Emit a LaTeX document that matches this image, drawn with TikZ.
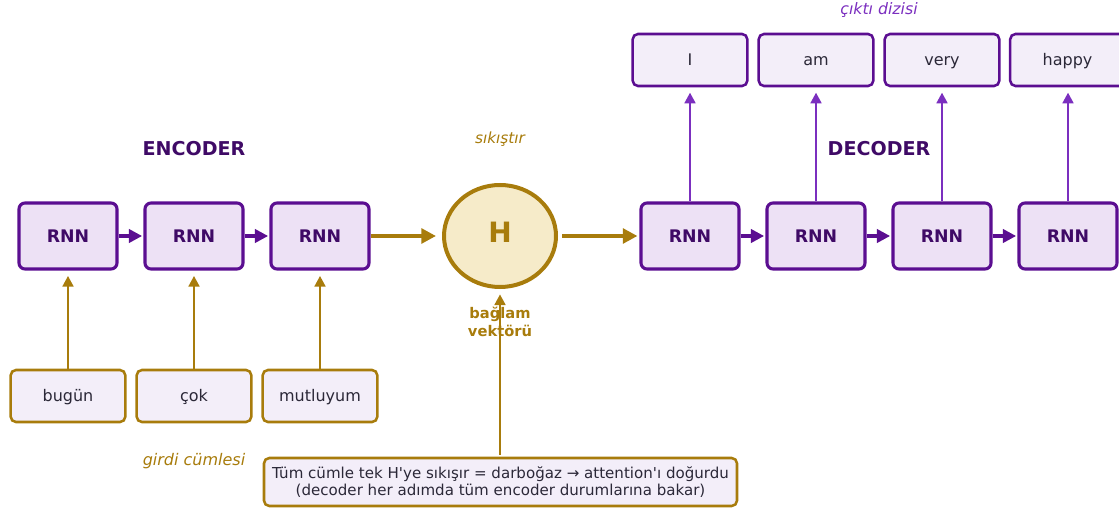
\documentclass[tikz,border=0pt]{standalone}
\usepackage{fontspec}
\setmainfont{DejaVu Sans}
\usetikzlibrary{arrows.meta,shapes.geometric,positioning}
\definecolor{rnnline}{HTML}{5B0E91}
\definecolor{rnntext}{HTML}{3F0A66}
\definecolor{rnnfill}{HTML}{EDE1F5}
\definecolor{wordfill}{HTML}{F3EEF9}
\definecolor{gold}{HTML}{A87C0C}
\definecolor{hfill}{HTML}{F6EBC9}
\definecolor{outline}{HTML}{7B2FBF}
\definecolor{notetext}{HTML}{2B2838}
\newcommand{\fs}[1]{\fontsize{#1}{1.2\dimexpr#1pt\relax}\selectfont}
\tikzset{
  rnn/.style={draw=rnnline, fill=rnnfill, line width=2.3pt, rounded corners=4.5pt,
    minimum width=73.5pt, minimum height=49.5pt, text=rnntext, font=\fs{13}\bfseries},
  inword/.style={draw=gold, fill=wordfill, line width=1.9pt, rounded corners=4pt,
    minimum width=86pt, minimum height=39pt, text height=9pt, text depth=1pt,
    text=notetext, font=\fs{12}},
  outword/.style={inword, draw=rnnline},
  recur/.style={-{Triangle[length=10pt,width=10pt]}, rnnline, line width=2.4pt},
  feed/.style={-{Triangle[length=8pt,width=8pt]}, gold, line width=1.9pt, shorten >=4pt},
  emit/.style={-{Triangle[length=8pt,width=8pt]}, outline, line width=1.9pt, shorten >=4pt},
  squeeze/.style={-{Triangle[length=11pt,width=11pt]}, gold, line width=3pt},
}
\begin{document}
\begin{tikzpicture}[x=0.75pt,y=-0.75pt]
        \useasboundingbox (0,0) rectangle (1119,509);
        \node [rnn] (e1) at (68,236) {RNN};
        \node [rnn] (e2) at (194,236) {RNN};
        \node [rnn] (e3) at (320,236) {RNN};
        \node [rnn] (d1) at (690,236) {RNN};
        \node [rnn] (d2) at (816,236) {RNN};
        \node [rnn] (d3) at (942,236) {RNN};
        \node [rnn] (d4) at (1068,236) {RNN};
        \node [inword] (w1) at (68,396) {bugün};
        \node [inword] (w2) at (194,396) {çok};
        \node [inword] (w3) at (320,396) {mutluyum};
        \node [outword] (o1) at (690,60) {I};
        \node [outword] (o2) at (816,60) {am};
        \node [outword] (o3) at (942,60) {very};
        \node [outword] (o4) at (1067.5,60) {happy};
        \node [ellipse, draw=gold, fill=hfill, line width=3pt, inner sep=0pt,
          minimum width=84pt, minimum height=76.5pt, text=gold, font=\fs{21}\bfseries] (h) at (500,236) {\raisebox{6pt}{H}};
        \node [text=rnntext, font=\fs{14.3}\bfseries] (enc) at (194,149) {ENCODER};
        \node [text=rnntext, font=\fs{14.3}\bfseries] (dec) at (879,149) {DECODER};
        \node [text=gold, font=\fs{11.5}\itshape] (sq) at (500,139) {sıkıştır};
        \node [text=gold, font=\fs{11}\bfseries, align=center] (ctx) at (500,322) {bağlam\\vektörü};
        \node [text=gold, font=\fs{12}\itshape] (inlbl) at (194,461) {girdi cümlesi};
        \node [text=outline, font=\fs{11.8}\itshape] (outlbl) at (879,10) {çıktı dizisi};
        \node [draw=gold, fill=wordfill, line width=1.9pt, rounded corners=4pt,
          minimum width=354.75pt, minimum height=36pt, inner sep=1pt, align=center,
          text=notetext, font=\fs{11.3}] (note) at (500.5,482)
          {Tüm cümle tek H\textquotesingle ye sıkışır = darboğaz → attention\textquotesingle ı doğurdu\\[-0.5pt](decoder her adımda tüm encoder durumlarına bakar)};
        \draw[feed] (w1) -- (e1);
        \draw[feed] (w2) -- (e2);
        \draw[feed] (w3) -- (e3);
        \draw[recur, shorten >=1pt] (e1) -- (e2);
        \draw[recur, shorten >=1pt] (e2) -- (e3);
        \draw[squeeze, shorten >=4.5pt] (e3) -- (h);
        \draw[squeeze, shorten <=3pt, shorten >=1.5pt] (h) -- (d1);
        \draw[recur, shorten >=1pt] (d1) -- (d2);
        \draw[recur, shorten >=1pt] (d2) -- (d3);
        \draw[recur, shorten >=1pt] (d3) -- (d4);
        \draw[emit] (d1) -- (o1);
        \draw[emit] (d2) -- (o2);
        \draw[emit] (d3) -- (o3);
        \draw[emit] (d4.north) -- (o4.south -| d4.north);
        \draw[feed, shorten <=1.5pt] (note.north -| h.south) -- (h.south);
\end{tikzpicture}
\end{document}
